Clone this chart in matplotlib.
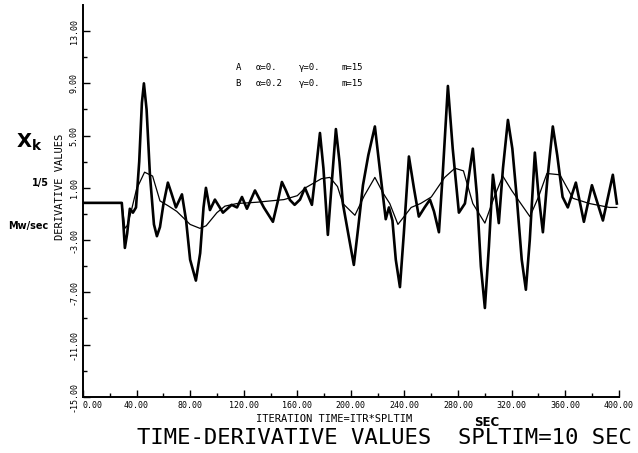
import numpy as np
import matplotlib.pyplot as plt

# curve A (alpha=0.)
time_a = [0, 29, 30, 31.3, 33, 35, 37.3, 39.6, 42, 44, 45.5, 47.5, 50, 53, 55.2,
          57.5, 60, 63.4, 66, 69.4, 73.9, 77, 80, 84.3, 87.5, 90, 91.8, 94.8, 98.5,
          104.5, 111, 115, 118.7, 122.4, 128.4, 135, 141.8, 145.5, 148.5, 151.5,
          154.5, 158, 162, 165.7, 170.9, 173.5, 176.9, 179.5, 182.8, 185.8, 188.8,
          191.5, 194, 198, 202.2, 205.5, 209, 213, 217.9, 221.5, 226, 228.4, 231,
          233.5, 236.6, 239.5, 243.3, 247, 250.7, 255, 259, 262, 265.7, 268.5,
          272.4, 276, 280.6, 285.1, 291, 294, 297, 300, 303, 306, 308, 310.4,
          313.5, 317.2, 320.5, 324, 327.5, 330.6, 333.5, 337.3, 340, 343.3, 346.5,
          350.7, 354, 358, 361.9, 367.9, 373.9, 379.9, 388.1, 395.5, 398.5]
deriv_a = [-0.15, -0.15, -1.5, -3.6, -2.5, -0.6, -0.9, -0.5, 3.0, 7.5, 9.0, 7.0,
           2.0, -1.8, -2.7, -2.0, -0.3, 1.4, 0.6, -0.5, 0.5, -1.5, -4.5, -6.1, -4.0,
           -0.5, 1.0, -0.7, 0.1, -0.9, -0.3, -0.5, 0.3, -0.6, 0.8, -0.5, -1.6, 0.0,
           1.45, 0.8, 0.07, -0.3, 0.1, 1.0, -0.3, 2.0, 5.2, 2.5, -2.6, 1.5, 5.5, 3.0,
           -0.2, -2.5, -4.9, -2.0, 1.2, 3.5, 5.7, 2.5, -1.4, -0.5, -1.5, -4.5, -6.6,
           -2.5, 3.4, 1.0, -1.2, -0.5, 0.1, -0.8, -2.4, 2.0, 8.8, 4.0, -0.9, -0.2,
           4.0, 0.5, -5.0, -8.2, -3.5, 2.0, 0.5, -1.7, 2.5, 6.2, 4.0, 0.0, -4.5,
           -6.8, -3.0, 3.7, 0.5, -2.4, 1.5, 5.7, 3.5, 0.3, -0.5, 1.4, -1.6, 1.2,
           -1.5, 2.0, -0.2]

# curve B (alpha=0.2)
time_b = [0, 29, 31.3, 33, 36, 40, 46, 52, 57.5, 64, 70, 80, 87.3, 92, 100, 106,
          115, 130, 150, 160, 166, 178, 184.3, 190, 194, 203, 210, 217.9, 224, 229,
          235.1, 245, 252, 260, 270, 277.6, 284, 291, 300, 307, 313.4, 320, 333.6,
          340, 346.3, 356, 365.7, 378, 393, 398.5]
deriv_b = [-0.15, -0.15, -2.1, -1.9, -0.8, 0.9, 2.2, 1.9, 0.0, -0.4, -0.8, -1.8,
           -2.1, -1.9, -0.9, -0.4, -0.2, -0.1, 0.1, 0.4, 1.0, 1.7, 1.8, 1.1, -0.2,
           -1.1, 0.4, 1.8, 0.6, -0.2, -1.8, -0.5, -0.2, 0.3, 1.8, 2.5, 2.3, -0.2,
           -1.7, 0.3, 1.9, 0.8, -1.2, 0.3, 2.1, 2.0, 0.2, -0.2, -0.5, -0.5]

xticks = [0, 40, 80, 120, 160, 200, 240, 280, 320, 360, 400]
yticks = [-15, -11, -7, -3, 1, 5, 9, 13]

mono = 'DejaVu Sans Mono'

fig = plt.figure(figsize=(6.38, 4.53), dpi=100)
ax = fig.add_axes([0.130, 0.124, 0.840, 0.865])

ax.plot(time_a, deriv_a, color='black', lw=1.9, solid_joinstyle='round')
ax.plot(time_b, deriv_b, color='black', lw=0.9, solid_joinstyle='round')

ax.set_xlim(0, 400)
ax.set_ylim(-15, 15)
for s in ['top', 'right']:
    ax.spines[s].set_visible(False)
for s in ['left', 'bottom']:
    ax.spines[s].set_linewidth(1.4)

ax.set_xticks(xticks)
ax.set_xticklabels(['%.2f' % v for v in xticks], family=mono, fontsize=6)
ax.get_xticklabels()[0].set_ha('left')
ax.set_xticks(np.arange(20, 400, 40), minor=True)
ax.set_yticks(yticks)
ax.set_yticklabels(['%.2f' % v for v in yticks], family=mono, fontsize=6,
                   rotation=90, va='center')
ax.set_yticks(np.arange(-13, 15, 4), minor=True)
ax.tick_params(which='both', direction='in', width=1)
ax.tick_params(which='major', length=5, pad=3)
ax.tick_params(which='minor', length=3)

ax.set_xlabel('ITERATION TIME=ITR*SPLTIM', family=mono, fontsize=7.5)
ax.xaxis.set_label_coords(0.468, -0.045)
ax.set_ylabel('DERIVATIVE VALUES', family=mono, fontsize=7.5)
ax.yaxis.set_label_coords(-0.033, 0.535)

# legend written as plain text
fs = 6.5
ax.text(114, 10.25, 'A', family=mono, fontsize=fs, va='center')
ax.text(129, 10.25, 'α=0.', family=mono, fontsize=fs, va='center')
ax.text(161, 10.25, 'γ=0.', family=mono, fontsize=fs, va='center')
ax.text(193, 10.25, 'm=15', family=mono, fontsize=fs, va='center')
ax.text(114, 9.0, 'B', family=mono, fontsize=fs, va='center')
ax.text(129, 9.0, 'α=0.2', family=mono, fontsize=fs, va='center')
ax.text(161, 9.0, 'γ=0.', family=mono, fontsize=fs, va='center')
ax.text(193, 9.0, 'm=15', family=mono, fontsize=fs, va='center')

# handwritten-style annotations
fig.text(0.025, 0.685, r'$\mathbf{X_k}$', fontsize=14, va='center')
fig.text(0.05, 0.596, '1/5', fontsize=7, weight='bold', va='center')
fig.text(0.012, 0.5, 'Mw/sec', fontsize=7, weight='bold', va='center')
fig.text(0.763, 0.068, 'SEC', fontsize=8.5, weight='bold', ha='center', va='center')

fig.text(0.602, 0.033, 'TIME-DERIVATIVE VALUES  SPLTIM=10 SEC', family=mono,
         fontsize=16, ha='center', va='center')

fig.savefig('out.png', dpi=100)
